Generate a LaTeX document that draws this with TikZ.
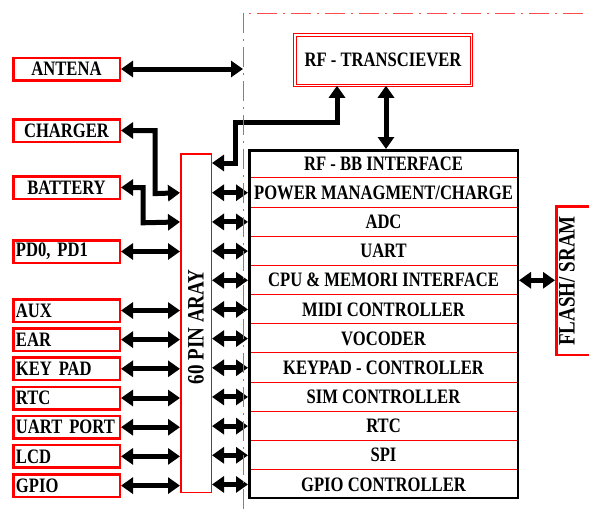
\documentclass[tikz,border=0pt]{standalone}
\usepackage{fontspec}
\setmainfont{Liberation Serif}[FakeStretch=0.81]
\usetikzlibrary{arrows.meta}
\begin{document}
\begin{tikzpicture}[x=1pt,y=-1pt,
  every node/.style={font=\fontsize{20.5}{22}\selectfont\bfseries},
  biglabel/.style={rotate=90, font=\fontsize{23.5}{25}\selectfont\bfseries},
  lbox/.style={draw=red, line width=2.5pt, minimum height=22.5pt, text width=101pt, inner xsep=2.75pt, inner ysep=0pt, align=left},
  cbox/.style={lbox, align=center},
  rowtext/.style={minimum width=268.5pt, minimum height=29.17pt, inner sep=0pt},
  arr/.style={line width=5pt, line join=miter,
    {Triangle[length=12pt,width=16pt]}-{Triangle[length=12pt,width=16pt]}}
]
\useasboundingbox (0,0) rectangle (589,509);

% main box rows
\foreach \t [count=\i from 0] in {RF - BB INTERFACE, POWER MANAGMENT/CHARGE, ADC, UART, CPU \& MEMORI INTERFACE, MIDI CONTROLLER, VOCODER, KEYPAD - CONTROLLER, SIM CONTROLLER, RTC, SPI, GPIO CONTROLLER}
  \node[rowtext] (r\i) at (383.5, 149+29.17*\i+14.58) {\t};
\foreach \i in {1,...,11}
  \draw[red, line width=1pt] (r\i.north west) -- (r\i.north east);
\node[draw=black, line width=2.5pt, minimum width=268.5pt, minimum height=347.5pt, inner sep=0pt] (main) at (383.5,324) {};

% RF transceiver
\node[draw=red, double, double distance=1.5pt, line width=1pt, minimum width=176.5pt, minimum height=50.5pt] (rf) at (383,60) {RF - TRANSCIEVER};

% pin array
\node[draw=red, line width=1.5pt, minimum width=30.5pt, minimum height=338.5pt, inner sep=0pt] (pin) at (196,323) {};
\node[biglabel] (pinlabel) at (196,327) {60 PIN ARAY};

% flash
\node[draw=red, line width=2.5pt, minimum width=37.5pt, minimum height=148.5pt, inner sep=0pt] (flash) at (575,280.5) {};
\node[biglabel] (flashlabel) at (567,281) {FLASH/ SRAM};

% left boxes
\node[cbox] (antena) at (66.5,69) {ANTENA};
\node[cbox] (charger) at (66.5,130.5) {CHARGER};
\node[cbox] (battery) at (66.5,187.5) {BATTERY};
\node[lbox] (pd) at (66.5,251.5) {PD0, PD1};
\node[lbox] (aux) at (66.5,310.5) {AUX};
\node[lbox] (ear) at (66.5,339.6) {EAR};
\node[lbox] (key) at (66.5,368.8) {KEY PAD};
\node[lbox] (rtc) at (66.5,398) {RTC};
\node[lbox] (uart) at (66.5,427.2) {UART PORT};
\node[lbox] (lcd) at (66.5,456.4) {LCD};
\node[lbox] (gpio) at (66.5,485.6) {GPIO};

% arrows
\coordinate (edge) at (243,69);
\draw[arr] (antena.east) -- (edge);
\draw[arr] (charger.east) -- (155,130.5) -- (155,193.6) -- (pin.west |- r1);
\draw[arr] (battery.east) -- (143,187.5) -- (143,222.8) -- (pin.west |- r2);
\foreach \n in {pd,aux,ear,key,rtc,uart,lcd,gpio}
  \draw[arr] (\n.east) -- (\n.east -| pin.west);
\foreach \i in {1,...,11}
  \draw[arr] (pin.east |- r\i) -- (main.west |- r\i);
\draw[arr] (pin.east |- 0,163) -- (235,163) -- (235,122) -- (337,122) -- (rf.south -| 337,0);
\draw[arr] (rf.south -| 386,0) -- (main.north -| 386,0);
\draw[arr] (main.east |- r4) -- (flash.west |- r4);

% dash-dot frame
\draw[red!70, line width=0.8pt, dash pattern=on 20pt off 6pt on 2pt off 6pt] (243,509) -- (243,13) -- (589,13);
\end{tikzpicture}
\end{document}
